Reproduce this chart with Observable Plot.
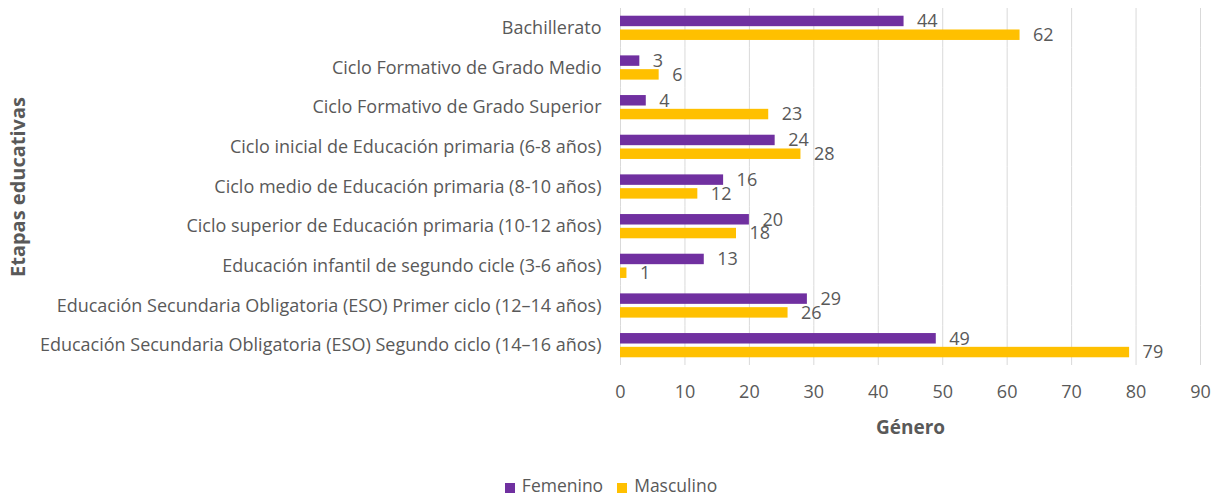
<!DOCTYPE html>
<html>
<head>
<meta charset="utf-8">
<script src="https://cdn.jsdelivr.net/npm/d3@7"></script>
<script src="https://cdn.jsdelivr.net/npm/@observablehq/plot@0.6"></script>
<style>
  html, body { margin: 0; padding: 0; background: #fff; }
  #chart { width: 1222px; font-family: "Open Sans", sans-serif; }
  [aria-label="fy-axis label"] text, [aria-label="fy-axis label"] { font-weight: bold; font-size: 20px; }
  [aria-label="x-axis label"] text, [aria-label="x-axis label"] { font-weight: bold; font-size: 19px; }
  .legend { display: flex; justify-content: center; align-items: center; gap: 14px; height: 24px; padding-top: 8px; font-size: 17.5px; color: #595959; }
  .legend span.sw { display: inline-block; width: 10px; height: 10px; margin-right: 7px; vertical-align: -1px; }
</style>
</head>
<body>
<div id="chart"></div>
<script>
const categories = [
  "Bachillerato",
  "Ciclo Formativo de Grado Medio",
  "Ciclo Formativo de Grado Superior",
  "Ciclo inicial de Educación primaria (6-8 años)",
  "Ciclo medio de Educación primaria (8-10 años)",
  "Ciclo superior de Educación primaria (10-12 años)",
  "Educación infantil de segundo cicle (3-6 años)",
  "Educación Secundaria Obligatoria (ESO) Primer ciclo (12–14 años)",
  "Educación Secundaria Obligatoria (ESO) Segundo ciclo (14–16 años)"
];
const femenino = [44, 3, 4, 24, 16, 20, 13, 29, 49];
const masculino = [62, 6, 23, 28, 12, 18, 1, 26, 79];
const series = ["Femenino", "Masculino"];
const colors = ["#7030A0", "#FFC000"];
const xTicks = [0, 10, 20, 30, 40, 50, 60, 70, 80, 90];

const data = [];
categories.forEach((c, i) => {
  data.push({cat: c, sex: series[0], value: femenino[i]});
  data.push({cat: c, sex: series[1], value: masculino[i]});
});

const plot = Plot.plot({
  width: 1222,
  height: 465,
  marginLeft: 620,
  marginRight: 22,
  marginTop: 8,
  marginBottom: 100,
  style: {fontFamily: "Open Sans, sans-serif", fontSize: "18px", color: "#595959", background: "#fff"},
  x: {domain: [0, 90], ticks: xTicks},
  y: {domain: series, paddingInner: 0.24, paddingOuter: 0.56, round: false, axis: null},
  fy: {domain: categories, padding: 0, round: false},
  color: {domain: series, range: colors},
  marks: [
    Plot.gridX(xTicks, {stroke: "#d9d9d9", strokeOpacity: 1}),
    Plot.barX(data, {fy: "cat", y: "sex", x: "value", fill: "sex"}),
    Plot.text(data, {fy: "cat", y: "sex", x: "value", text: d => String(d.value), textAnchor: "start", dx: 13, fill: "#595959", fontSize: 18}),
    Plot.axisX({ticks: xTicks, tickSize: 0, tickPadding: 20, fontSize: 18, label: "Género", labelAnchor: "center", labelOffset: 68, labelArrow: "none"}),
    Plot.axisFy({anchor: "left", tickSize: 0, tickPadding: 19, fontSize: 18, label: "Etapas educativas", labelAnchor: "center", labelOffset: 610, labelArrow: "none"})
  ]
});
document.getElementById("chart").appendChild(plot);

const legend = document.createElement("div");
legend.className = "legend";
series.forEach((s, i) => {
  const item = document.createElement("div");
  item.innerHTML = `<span class="sw" style="background:${colors[i]}"></span>${s}`;
  legend.appendChild(item);
});
document.getElementById("chart").appendChild(legend);
</script>
</body>
</html>
